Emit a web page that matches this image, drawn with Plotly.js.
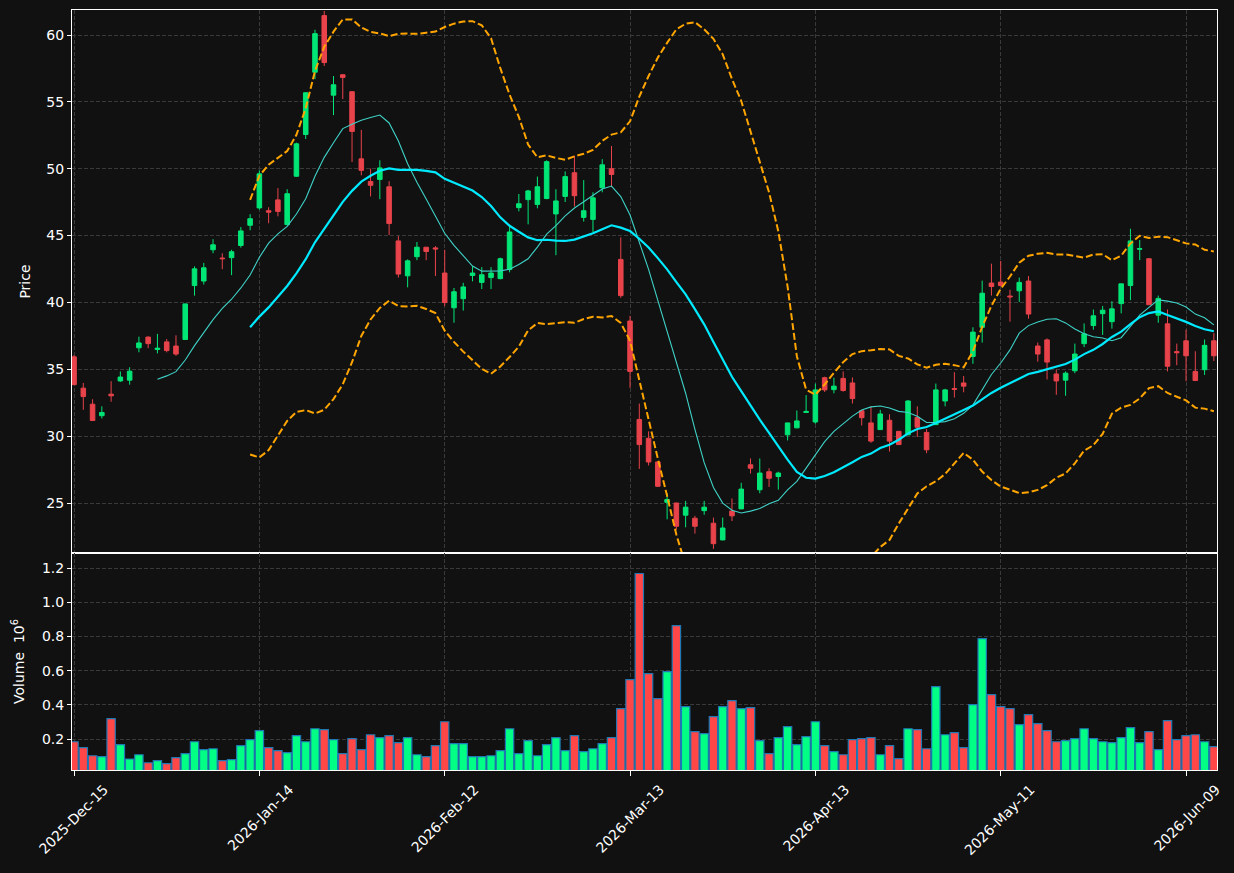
<!DOCTYPE html>
<html><head><meta charset="utf-8">
<script src="https://cdn.plot.ly/plotly-3.0.1.min.js"></script>
<style>html,body{margin:0;padding:0;background:#111111;}#chart{width:1234px;height:873px;}</style>
</head><body><div id="chart"></div>
<script>
// trading sessions (month -> days)
const tradingDays = [
  ["2025-Dec", [15,16,17,18,19,22,23,24,26,29,30,31]],
  ["2026-Jan", [2,5,6,7,8,9,12,13,14,15,16,20,21,22,23,26,27,28,29,30]],
  ["2026-Feb", [2,3,4,5,6,9,10,11,12,13,17,18,19,20,23,24,25,26,27]],
  ["2026-Mar", [2,3,4,5,6,9,10,11,12,13,16,17,18,19,20,23,24,25,26,27,30,31]],
  ["2026-Apr", [1,2,6,7,8,9,10,13,14,15,16,17,20,21,22,23,24,27,28,29,30]],
  ["2026-May", [1,4,5,6,7,8,11,12,13,14,15,18,19,20,21,22,26,27,28,29]],
  ["2026-Jun", [1,2,3,4,5,8,9,10,11,12]]
];
const tickLabels = ["2025-Dec-15","2026-Jan-14","2026-Feb-12","2026-Mar-13","2026-Apr-13","2026-May-11","2026-Jun-09"];

const opens = [35.93,33.59,32.39,31.53,33.14,34.13,34.19,36.61,37.41,36.48,
  37.05,36.74,37.23,41.26,41.60,43.94,43.32,43.35,44.26,45.77,
  47.07,46.86,47.67,45.82,49.44,52.56,57.22,61.45,55.50,57.03,
  55.76,50.74,49.04,49.20,48.65,44.60,41.99,43.42,44.13,44.08,
  42.20,39.60,40.28,42.02,41.50,41.86,41.78,42.46,47.09,47.69,
  47.33,47.77,46.62,47.93,49.70,46.36,46.21,48.58,50.00,43.22,
  38.61,31.25,29.84,28.07,25.05,25.00,24.09,23.86,24.43,23.49,
  22.24,24.40,24.56,27.86,25.99,27.34,26.98,30.10,30.62,31.77,
  31.06,34.37,33.48,34.32,33.98,31.90,30.99,30.49,31.19,30.36,
  30.10,31.40,30.28,30.86,32.63,33.56,33.98,35.96,38.14,41.45,
  41.52,40.48,40.87,41.60,36.74,37.20,34.65,34.19,34.89,36.92,
  38.27,39.16,38.56,39.91,41.26,43.98,43.27,39.05,38.40,36.32,
  37.13,34.84,34.97,37.13];
const highs = [36.06,33.98,32.76,32.23,34.11,34.84,35.15,37.44,37.45,37.65,
  37.26,37.54,39.92,42.70,42.96,44.73,43.68,43.94,45.64,46.60,
  49.88,47.12,48.55,48.47,51.95,55.72,60.39,61.80,56.93,57.05,
  55.80,52.90,50.01,50.63,49.07,44.96,43.22,44.52,44.15,44.21,
  43.94,41.08,41.47,42.70,42.64,42.64,43.35,45.64,48.11,48.42,
  49.41,50.63,48.47,49.80,50.97,49.15,48.24,50.71,51.70,44.86,
  39.00,32.44,30.36,28.10,25.73,25.02,25.16,24.04,25.16,23.91,
  23.91,25.34,26.51,28.33,28.33,27.60,27.34,31.00,31.92,33.07,
  33.93,34.45,34.37,34.84,34.39,31.92,32.23,31.97,31.64,30.38,
  32.70,32.23,30.54,33.93,33.54,34.78,34.50,38.14,41.63,42.90,
  43.11,40.95,41.86,41.97,37.00,37.31,34.97,34.84,36.92,38.43,
  39.47,39.73,40.09,41.40,45.51,44.67,43.29,40.51,39.47,36.92,
  37.96,36.35,37.23,37.70];
const lows = [33.85,31.97,31.17,31.32,32.57,34.06,33.85,36.27,36.58,36.19,
  36.27,36.01,37.20,40.51,41.34,43.68,42.49,42.04,44.10,45.40,
  46.94,45.92,46.44,45.80,49.40,52.22,56.70,57.68,54.01,55.21,
  50.50,49.51,47.93,47.72,45.04,41.86,41.13,43.16,43.16,41.97,
  39.73,38.48,39.39,41.58,41.00,41.00,41.73,42.25,46.81,45.84,
  47.04,47.72,43.53,47.51,47.17,46.05,45.25,48.24,48.63,40.35,
  33.61,27.55,27.81,26.20,23.78,23.00,23.18,22.71,24.12,21.57,
  22.22,23.65,24.54,27.21,25.73,26.20,26.00,29.68,30.60,31.77,
  30.93,33.30,33.20,33.33,32.44,30.80,29.50,30.47,28.85,29.35,
  30.08,29.94,28.72,30.84,32.23,32.89,33.28,35.41,37.00,40.51,
  41.24,38.56,40.04,38.79,35.57,34.24,33.09,33.02,34.71,36.66,
  37.96,37.57,38.04,39.18,40.17,43.16,39.83,38.48,34.84,35.31,
  34.11,34.14,34.58,35.62];
const closes = [33.85,32.96,31.17,31.77,33.02,34.42,34.86,36.97,36.92,36.58,
  36.40,36.14,39.89,42.51,42.59,44.31,43.27,43.79,45.35,46.26,
  49.62,46.75,46.81,48.13,51.86,55.68,60.10,57.94,56.28,56.83,
  52.79,49.88,48.76,50.06,45.90,42.12,43.11,44.13,43.81,44.00,
  39.99,40.80,41.16,42.20,42.07,42.20,43.27,45.27,47.38,48.34,
  48.65,50.53,47.59,49.41,47.98,46.86,47.82,50.29,49.57,40.51,
  34.84,29.37,28.07,26.25,25.26,23.26,24.69,23.26,24.69,21.96,
  23.13,24.04,26.04,27.60,27.24,26.85,27.24,30.99,31.14,31.85,
  33.46,33.46,33.74,33.41,32.81,31.38,29.63,31.66,29.63,29.37,
  32.63,30.67,28.98,33.46,33.46,33.50,33.74,37.78,40.69,41.19,
  41.26,40.42,41.50,39.13,36.14,35.54,34.13,34.71,36.14,37.65,
  39.00,39.42,39.52,41.39,44.60,44.02,39.83,40.30,35.23,36.24,
  36.01,34.16,36.79,36.01];
// volume in millions
const volumes = [0.184,0.149,0.102,0.097,0.319,0.167,0.083,0.108,0.061,0.073,
  0.056,0.091,0.114,0.184,0.138,0.143,0.073,0.079,0.161,0.196,
  0.249,0.149,0.132,0.120,0.220,0.184,0.260,0.255,0.196,0.114,
  0.202,0.138,0.225,0.208,0.220,0.179,0.208,0.108,0.097,0.161,
  0.301,0.173,0.173,0.097,0.097,0.102,0.132,0.260,0.114,0.190,
  0.102,0.167,0.208,0.132,0.220,0.126,0.143,0.173,0.208,0.378,
  0.547,1.168,0.582,0.436,0.594,0.863,0.389,0.243,0.231,0.331,
  0.389,0.424,0.378,0.383,0.190,0.114,0.208,0.272,0.167,0.214,
  0.301,0.161,0.126,0.108,0.196,0.202,0.208,0.108,0.161,0.085,
  0.260,0.255,0.143,0.506,0.225,0.237,0.149,0.401,0.787,0.460,
  0.389,0.378,0.284,0.342,0.290,0.249,0.184,0.190,0.202,0.260,
  0.202,0.184,0.179,0.208,0.266,0.179,0.243,0.138,0.307,0.196,
  0.220,0.225,0.184,0.155];

const dates = [];
tradingDays.forEach(([m, days]) => days.forEach(d => dates.push(m + "-" + String(d).padStart(2, "0"))));
const xs = dates.map((d, i) => i);
const tickVals = tickLabels.map(t => dates.indexOf(t));

function sma(arr, n) {
  return arr.map((v, i) => i < n - 1 ? null : arr.slice(i - n + 1, i + 1).reduce((a, b) => a + b, 0) / n);
}
function bollinger(arr, n, k) {
  const m = sma(arr, n), up = [], lo = [];
  arr.forEach((v, i) => {
    if (i < n - 1) { up.push(null); lo.push(null); return; }
    const w = arr.slice(i - n + 1, i + 1);
    const sd = Math.sqrt(w.reduce((a, b) => a + (b - m[i]) ** 2, 0) / n);
    up.push(m[i] + k * sd); lo.push(m[i] - k * sd);
  });
  return {up, lo};
}
const sma10 = sma(closes, 10), sma20 = sma(closes, 20);
const bb = bollinger(closes, 20, 2);

const UP = '#00e676', DOWN = '#e8434b';
const VUP = '#00ff84', VDOWN = '#ff4747';
const volColors = closes.map((c, i) => c >= opens[i] ? VUP : VDOWN);

const traces = [
  {type: 'candlestick', x: xs, open: opens, high: highs, low: lows, close: closes,
   xaxis: 'x', yaxis: 'y', text: dates, hoverinfo: 'text',
   increasing: {line: {color: UP, width: 1}, fillcolor: UP},
   decreasing: {line: {color: DOWN, width: 1}, fillcolor: DOWN},
   whiskerwidth: 0},
  {type: 'scatter', mode: 'lines', x: xs, y: sma10, xaxis: 'x', yaxis: 'y',
   line: {color: '#3fd2c7', width: 1.1}, hoverinfo: 'skip'},
  {type: 'scatter', mode: 'lines', x: xs, y: sma20, xaxis: 'x', yaxis: 'y',
   line: {color: '#00eaff', width: 2.2}, hoverinfo: 'skip'},
  {type: 'scatter', mode: 'lines', x: xs, y: bb.up, xaxis: 'x', yaxis: 'y',
   line: {color: '#ffa500', width: 2, dash: '7px,3px'}, hoverinfo: 'skip'},
  {type: 'scatter', mode: 'lines', x: xs, y: bb.lo, xaxis: 'x', yaxis: 'y',
   line: {color: '#ffa500', width: 2, dash: '7px,3px'}, hoverinfo: 'skip'},
  {type: 'bar', x: xs, y: volumes, xaxis: 'x2', yaxis: 'y2', width: 0.9,
   marker: {color: volColors, line: {color: '#1f77b4', width: 1.2}}, hoverinfo: 'y'}
];

const GRID = '#3a3a3a';
const xr = [-0.22, 123.34];
const axCommon = {showline: true, mirror: true, linecolor: '#ffffff', linewidth: 1,
  zeroline: false, gridcolor: GRID, griddash: '4px,2px', gridwidth: 1,
  tickcolor: '#ffffff', tickfont: {color: '#ffffff', size: 14}};
const layout = {
  width: 1234, height: 873,
  paper_bgcolor: '#111111', plot_bgcolor: '#111111',
  margin: {l: 72, r: 17, t: 10, b: 103},
  showlegend: false,
  font: {family: 'DejaVu Sans', size: 14, color: '#ffffff'},
  xaxis: Object.assign({}, axCommon, {anchor: 'y', range: xr, tickmode: 'array', tickvals: tickVals,
    ticktext: tickLabels, showticklabels: false, ticks: '', rangeslider: {visible: false}}),
  xaxis2: Object.assign({}, axCommon, {anchor: 'y2', matches: 'x', range: xr, tickmode: 'array',
    tickvals: tickVals, ticktext: tickLabels, tickangle: -45, ticks: 'outside', ticklen: 5,
    ticklabelshift: 30}),
  yaxis: Object.assign({}, axCommon, {domain: [0.2855, 1], range: [21.26, 61.87], tick0: 0, dtick: 5,
    ticks: 'outside', ticklen: 4, title: {text: 'Price', standoff: 12, font: {size: 14, color: '#ffffff'}}}),
  yaxis2: Object.assign({}, axCommon, {domain: [0, 0.2855], range: [0.0187, 1.2877], tick0: 0, dtick: 0.2,
    tickformat: '.1f', ticks: 'outside', ticklen: 4,
    title: {text: 'Volume  10<sup>6</sup>', standoff: 14, font: {size: 14, color: '#ffffff'}}})
};
Plotly.newPlot('chart', traces, layout, {displayModeBar: false, staticPlot: true});
</script>
</body></html>
